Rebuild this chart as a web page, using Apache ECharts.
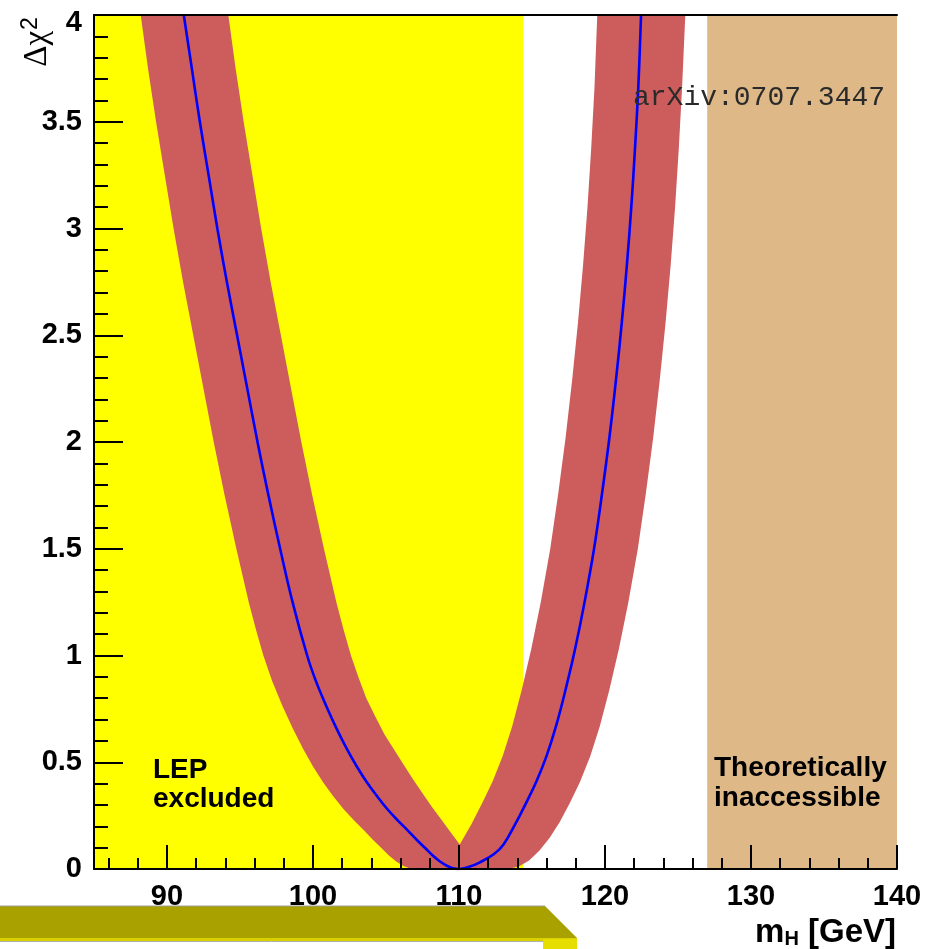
<!DOCTYPE html>
<html><head><meta charset="utf-8">
<script src="https://cdn.jsdelivr.net/npm/echarts@6/dist/echarts.min.js"></script>
<style>html,body{margin:0;padding:0;background:#fff}#c{width:926px;height:949px}</style>
</head><body><div id="c"></div>
<script>
// ---- data ----
const xRange = [85, 140];
const yRange = [0, 4];
const xMajorTicks = [90, 100, 110, 120, 130, 140];
const xMinorTicks = [86, 88, 92, 94, 96, 98, 102, 104, 106, 108, 112, 114, 116, 118, 122, 124, 126, 128, 132, 134, 136, 138];
const lepExcluded = [85, 114.4];
const theoryInaccessible = [127, 140];

// central chi2 curve (blue), [mH, dchi2]
const chi2Curve = [
  [91.15, 4.0], [91.7, 3.75], [92.25, 3.5], [92.85, 3.25], [93.45, 3.0], [94.1, 2.75], [94.8, 2.5],
  [95.5, 2.25], [96.2, 2.0], [96.95, 1.75], [97.75, 1.5], [98.6, 1.25], [99.6, 1.0], [100.2, 0.88],
  [100.9, 0.765], [101.6, 0.66], [102.3, 0.565], [103.0, 0.48], [103.7, 0.405], [104.4, 0.34],
  [105.1, 0.28], [105.8, 0.228], [106.5, 0.18], [107.1, 0.137], [107.7, 0.097], [108.2, 0.063],
  [108.7, 0.035], [109.2, 0.014], [109.6, 0.004], [110.0, 0.0],
  [110.7, 0.01], [111.4, 0.03], [112.4, 0.07], [113.05, 0.115], [113.85, 0.21], [114.6, 0.31],
  [115.3, 0.41], [116.0, 0.53], [116.65, 0.67], [117.3, 0.84], [117.95, 1.03], [118.6, 1.25],
  [119.25, 1.5], [119.8, 1.76], [120.3, 2.02], [120.75, 2.29], [121.15, 2.56], [121.5, 2.83],
  [121.8, 3.1], [122.05, 3.37], [122.28, 3.66], [122.47, 4.0]
];

// theory-uncertainty band edges (red)
const bandLeftOuter = [
  [88.2, 4], [88.7, 3.75], [89.25, 3.5], [89.85, 3.25], [90.45, 3], [91.1, 2.75], [91.8, 2.5],
  [92.5, 2.25], [93.2, 2], [93.95, 1.75], [94.75, 1.5], [95.6, 1.25], [96.1, 1.12], [96.6, 1.0],
  [97.2, 0.88], [97.9, 0.765], [98.6, 0.66], [99.3, 0.565], [100.0, 0.48], [100.7, 0.405],
  [101.4, 0.34], [102.1, 0.28], [102.8, 0.228], [103.5, 0.18], [104.1, 0.137], [104.7, 0.097],
  [105.2, 0.063], [105.7, 0.035], [106.2, 0.014], [106.6, 0.004], [107.0, 0]
];
const bandLeftInner = [
  [94.2, 4], [94.7, 3.75], [95.25, 3.5], [95.85, 3.25], [96.45, 3], [97.1, 2.75], [97.8, 2.5],
  [98.5, 2.25], [99.2, 2], [99.95, 1.75], [100.75, 1.5], [101.6, 1.25], [102.1, 1.12], [102.6, 1.0],
  [103.1, 0.9], [103.65, 0.8], [104.3, 0.71], [104.9, 0.63], [105.55, 0.56], [106.2, 0.49],
  [106.85, 0.42], [107.5, 0.355], [108.15, 0.29], [108.75, 0.235], [109.4, 0.175], [110.05, 0.115]
];
const bandRightInner = [
  [110.05, 0.115], [110.85, 0.21], [111.6, 0.31], [112.3, 0.41], [113.0, 0.53], [113.65, 0.67],
  [114.3, 0.84], [114.95, 1.03], [115.6, 1.25], [116.25, 1.5], [116.8, 1.76], [117.3, 2.02],
  [117.75, 2.29], [118.15, 2.56], [118.5, 2.83], [118.8, 3.1], [119.05, 3.37], [119.28, 3.66], [119.47, 4]
];
const bandRightOuter = [
  [125.5, 4], [125.28, 3.66], [125.05, 3.37], [124.8, 3.1], [124.5, 2.83], [124.15, 2.56],
  [123.75, 2.29], [123.3, 2.02], [122.8, 1.76], [122.25, 1.5], [121.6, 1.25], [120.95, 1.03],
  [120.3, 0.84], [119.65, 0.67], [119.0, 0.53], [118.3, 0.41], [117.6, 0.31], [116.9, 0.22],
  [116.2, 0.145], [115.5, 0.085], [114.8, 0.04], [114.1, 0.012], [113.5, 0.002], [113.0, 0]
];

// ---- chart ----
const bandPolygon = bandLeftOuter
  .concat(bandRightOuter.slice().reverse())
  .concat(bandRightInner.slice().reverse())
  .concat(bandLeftInner.slice().reverse());

const FONT = "'Liberation Sans', Arial, sans-serif";
const tickStyle = { color: '#000', width: 2 };

function regionItem(range, color) {
  return function (params, api) {
    const p0 = api.coord([range[0], yRange[1]]);
    const p1 = api.coord([range[1], yRange[0]]);
    return { type: 'rect', shape: { x: p0[0], y: p0[1], width: p1[0] - p0[0], height: p1[1] - p0[1] }, style: { fill: color } };
  };
}

const chart = echarts.init(document.getElementById('c'));
chart.setOption({
  animation: false,
  backgroundColor: '#fff',
  grid: { left: 94, top: 15, width: 803, height: 854 },
  xAxis: [
    {
      type: 'value', min: xRange[0], max: xRange[1], position: 'bottom', z: 10,
      axisLine: { show: true, onZero: false, lineStyle: tickStyle },
      axisTick: { show: true, inside: true, length: 24, lineStyle: tickStyle, customValues: xMajorTicks },
      axisLabel: { show: true, customValues: xMajorTicks, margin: 13, color: '#000', fontSize: 29, fontWeight: 'bold', fontFamily: FONT },
      splitLine: { show: false }
    },
    {
      type: 'value', min: xRange[0], max: xRange[1], position: 'bottom', z: 10,
      axisLine: { show: false, onZero: false },
      axisTick: { show: true, inside: true, length: 11, lineStyle: tickStyle, customValues: xMinorTicks },
      axisLabel: { show: false },
      splitLine: { show: false }
    },
    {
      type: 'value', min: xRange[0], max: xRange[1], position: 'top', z: 10,
      axisLine: { show: true, onZero: false, lineStyle: { color: '#000', width: 2 } },
      axisTick: { show: false }, axisLabel: { show: false }, splitLine: { show: false }
    }
  ],
  yAxis: {
    type: 'value', min: yRange[0], max: yRange[1], interval: 0.5, position: 'left', z: 10,
    axisLine: { show: true, onZero: false, lineStyle: tickStyle },
    axisTick: { show: true, inside: true, length: 29, lineStyle: tickStyle },
    minorTick: { show: true, splitNumber: 5, length: 14, lineStyle: tickStyle },
    axisLabel: {
      margin: 12, color: '#000', fontSize: 29, fontWeight: 'bold', fontFamily: FONT,
      formatter: function (v) { return v === yRange[1] ? '{t|' + v + '}' : String(v); },
      rich: { t: { fontSize: 29, fontWeight: 'bold', fontFamily: FONT, color: '#000', padding: [15, 0, 0, 0] } }
    },
    splitLine: { show: false }
  },
  series: [
    { type: 'custom', name: 'LEP excluded', silent: true, z: 1, data: [[lepExcluded[0], 0]], renderItem: regionItem(lepExcluded, '#FFFF00') },
    { type: 'custom', name: 'Theoretically inaccessible', silent: true, z: 1, data: [[theoryInaccessible[0], 0]], renderItem: regionItem(theoryInaccessible, '#DEB887') },
    {
      type: 'custom', name: 'band', silent: true, z: 2, data: [[110, 0]],
      renderItem: function (params, api) {
        return { type: 'polygon', shape: { points: bandPolygon.map(p => api.coord(p)) }, style: { fill: '#CD5C5C' } };
      }
    },
    {
      type: 'line', name: 'chi2', data: chi2Curve, showSymbol: false, smooth: 0.4, z: 3,
      lineStyle: { color: '#0000FF', width: 2.6 }, silent: true
    }
  ],
  graphic: [
    { type: 'text', z: 100, left: 153, top: 756, style: { text: 'LEP\nexcluded', font: 'bold 28px ' + FONT, fill: '#000', lineHeight: 29 } },
    { type: 'text', z: 100, left: 714, top: 753, style: { text: 'Theoretically\ninaccessible', font: 'bold 28px ' + FONT, fill: '#000', lineHeight: 30 } },
    { type: 'text', z: 100, left: 633, top: 84, style: { text: 'arXiv:0707.3447', font: "28px 'Liberation Mono', 'Courier New', monospace", fill: '#2a2a2a' } },
    {
      type: 'text', z: 100, x: 37, y: 42, rotation: Math.PI / 2,
      style: {
        text: '{a|Δχ}{s|2}', align: 'center', verticalAlign: 'middle',
        rich: {
          a: { font: "33px 'Liberation Serif', serif", fill: '#000', lineHeight: 36 },
          s: { font: "23px 'Liberation Sans', sans-serif", fill: '#000', lineHeight: 36, verticalAlign: 'top', padding: [0, 0, 14, 1] }
        }
      }
    },
    {
      type: 'text', z: 100, x: 896, y: 949,
      style: {
        text: '{a|m}{s|H}{a| [GeV]}', align: 'right', verticalAlign: 'bottom',
        rich: {
          a: { font: 'bold 33px ' + FONT, fill: '#000', lineHeight: 36, verticalAlign: 'bottom' },
          s: { font: 'bold 20px ' + FONT, fill: '#000', lineHeight: 14, verticalAlign: 'bottom' }
        }
      }
    },
    // slide decoration below the plot
    { type: 'polygon', z: 50, shape: { points: [[0, 906], [545, 906], [577, 938], [0, 938]] }, style: { fill: '#A9A100' } },
    { type: 'line', z: 51, shape: { x1: 0, y1: 906, x2: 545, y2: 906 }, style: { stroke: '#9d9d9d', lineWidth: 1 } },
    { type: 'rect', z: 50, shape: { x: 0, y: 938, width: 577, height: 3 }, style: { fill: '#D8D000' } },
    { type: 'line', z: 51, shape: { x1: 0, y1: 941.5, x2: 543, y2: 941.5 }, style: { stroke: '#b0b0b0', lineWidth: 1 } },
    { type: 'rect', z: 50, shape: { x: 543, y: 939, width: 34, height: 10 }, style: { fill: '#E6DE00' } }
  ]
});
</script>
</body></html>
